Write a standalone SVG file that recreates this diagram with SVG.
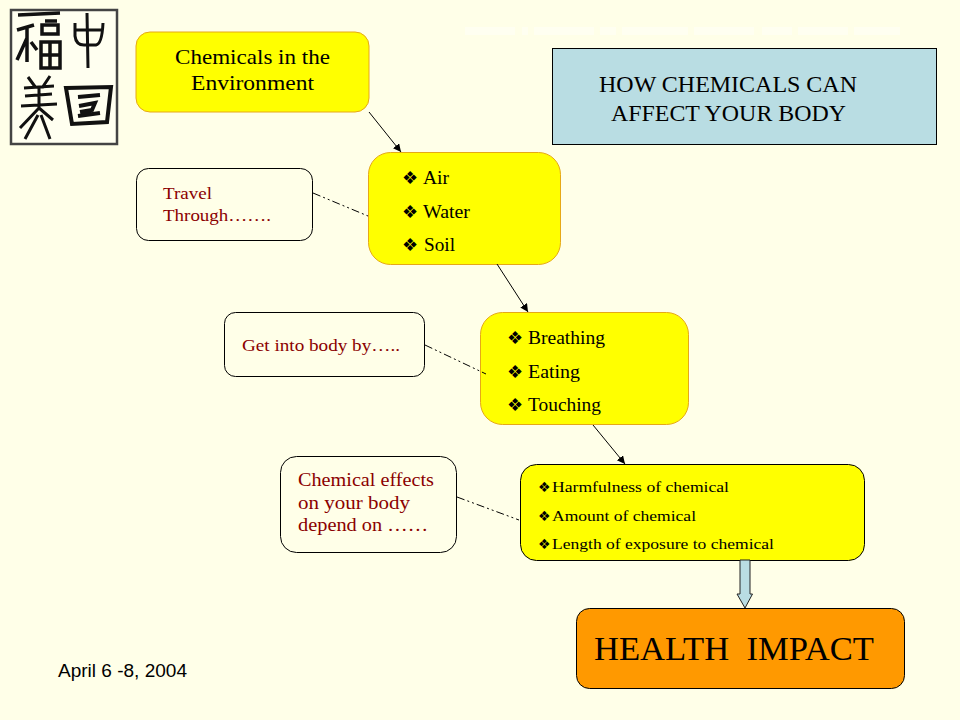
<svg xmlns="http://www.w3.org/2000/svg" width="960" height="720" viewBox="0 0 960 720">
<style>
text{font-family:"Liberation Serif","Times New Roman",serif;fill:#000}
.y{fill:#ffff00;stroke:#e6a817;stroke-width:1}
.yk{fill:#ffff00;stroke:#000;stroke-width:1}
.w{fill:#ffffe8;stroke:#000;stroke-width:1}
.r{fill:#8b0000}
.conn{stroke:#000;stroke-width:1;fill:none}
.dd{stroke-dasharray:8 3 2 3 2 3}
.b{font-family:"DejaVu Sans",sans-serif}
.smear{fill:#ffffff;opacity:.4}
</style>
<defs><marker id="ah" markerWidth="9" markerHeight="9" refX="8" refY="4" orient="auto" markerUnits="userSpaceOnUse"><path d="M0 0L8 4L0 8Z" fill="#000"/></marker></defs>
<rect width="960" height="720" fill="#ffffe8"/>
<g id="logo">
<rect x="11" y="10" width="106" height="134" fill="#fffff0" stroke="#444" stroke-width="2.500"/>
<g fill="none" stroke="#111" stroke-width="3.500">
<path d="M18 15L60 13M17 30L34 25M27 27L27 62M27 38L17 60M31 42L37 50M45 21H57M42 25H58V34H42ZM41 42H60V68H41ZM41 55H60M50 42V68"/>
<path d="M75 23V36Q76 45 84 45H96Q102 44 103 23M75 30H103M87 13L88 68" stroke-width="3"/>
<path d="M66 88L111 87L107 122L72 124ZM78 97L100 95M79 106L95 103L92 110L80 112M78 116L100 113" stroke-width="4"/>
<path d="M28 77L36 88M50 76L42 88M24 88L54 86M25 96L52 94M21 106L57 104M39 86V108M39 108L20 128M39 108L53 120M38 115L25 139M41 115L50 139" stroke-width="3"/>
</g>
</g>
<g id="faint-caption">
<rect class="smear" x="465" y="27" width="50" height="8"/><rect class="smear" x="522" y="27" width="6" height="8"/><rect class="smear" x="534" y="27" width="60" height="8"/><rect class="smear" x="600" y="27" width="16" height="8"/><rect class="smear" x="622" y="27" width="66" height="8"/><rect class="smear" x="694" y="27" width="60" height="8"/><rect class="smear" x="762" y="27" width="30" height="8"/><rect class="smear" x="798" y="27" width="50" height="8"/><rect class="smear" x="854" y="27" width="46" height="8"/>
</g>
<g id="node-environment"><rect class="y" x="136" y="32" width="233" height="80" rx="14"/>
<text x="175" y="64" font-size="22" textLength="155" lengthAdjust="spacingAndGlyphs">Chemicals in the</text><text x="191" y="90" font-size="22" textLength="123" lengthAdjust="spacingAndGlyphs">Environment</text></g>
<g id="node-title"><rect x="552.500" y="48.500" width="384" height="96" fill="#b9dde3" stroke="#000"/>
<text x="599" y="92" font-size="24" textLength="258" lengthAdjust="spacingAndGlyphs">HOW CHEMICALS CAN</text><text x="611" y="121" font-size="24" textLength="235" lengthAdjust="spacingAndGlyphs">AFFECT YOUR BODY</text></g>
<g id="node-media"><rect class="y" x="368.500" y="152.500" width="192" height="112" rx="22"/>
<text class="b" x="402" y="184" font-size="18">❖</text><text x="423" y="184" font-size="18" textLength="26" lengthAdjust="spacingAndGlyphs">Air</text>
<text class="b" x="402" y="218" font-size="18">❖</text><text x="423" y="218" font-size="18" textLength="47" lengthAdjust="spacingAndGlyphs">Water</text>
<text class="b" x="402" y="251" font-size="18">❖</text><text x="424" y="251" font-size="18" textLength="31" lengthAdjust="spacingAndGlyphs">Soil</text></g>
<g id="node-travel"><rect class="w" x="136.500" y="168.500" width="176" height="72" rx="12"/>
<text class="r" x="163" y="199" font-size="17" textLength="49" lengthAdjust="spacingAndGlyphs">Travel</text><text class="r" x="163" y="221" font-size="17" textLength="108" lengthAdjust="spacingAndGlyphs">Through…….</text></g>
<g id="node-routes"><rect class="y" x="480.500" y="312.500" width="208" height="112" rx="22"/>
<text class="b" x="507" y="344" font-size="18">❖</text><text x="528" y="344" font-size="18" textLength="77" lengthAdjust="spacingAndGlyphs">Breathing</text>
<text class="b" x="507" y="378" font-size="18">❖</text><text x="528" y="378" font-size="18" textLength="52" lengthAdjust="spacingAndGlyphs">Eating</text>
<text class="b" x="507" y="411" font-size="18">❖</text><text x="528" y="411" font-size="18" textLength="73" lengthAdjust="spacingAndGlyphs">Touching</text></g>
<g id="node-getinto"><rect class="w" x="224.500" y="312.500" width="200" height="64" rx="11"/>
<text class="r" x="242" y="351" font-size="17" textLength="158" lengthAdjust="spacingAndGlyphs">Get into body by…..</text></g>
<g id="node-effects"><rect class="w" x="280.500" y="456.500" width="176" height="96" rx="16"/>
<text class="r" x="298" y="486" font-size="18" textLength="136" lengthAdjust="spacingAndGlyphs">Chemical effects</text><text class="r" x="298" y="509" font-size="18" textLength="112" lengthAdjust="spacingAndGlyphs">on your body</text><text class="r" x="298" y="531" font-size="18" textLength="130" lengthAdjust="spacingAndGlyphs">depend on ……</text></g>
<g id="node-factors"><rect class="yk" x="520.500" y="464.500" width="344" height="96" rx="16"/>
<text class="b" x="538" y="492" font-size="14">❖</text><text x="552" y="492" font-size="15" textLength="177" lengthAdjust="spacingAndGlyphs">Harmfulness of chemical</text>
<text class="b" x="538" y="521" font-size="14">❖</text><text x="552" y="521" font-size="15" textLength="144" lengthAdjust="spacingAndGlyphs">Amount of chemical</text>
<text class="b" x="538" y="549" font-size="14">❖</text><text x="552" y="549" font-size="15" textLength="222" lengthAdjust="spacingAndGlyphs">Length of exposure to chemical</text></g>
<g id="node-impact"><rect x="576.500" y="608.500" width="328" height="80" rx="13" fill="#ff9900" stroke="#000"/>
<text x="594" y="660" font-size="34" textLength="280" lengthAdjust="spacingAndGlyphs" xml:space="preserve">HEALTH  IMPACT</text></g>
<g id="connectors">
<line class="conn" x1="369" y1="112" x2="401" y2="152" marker-end="url(#ah)"/>
<line class="conn" x1="497" y1="264" x2="528" y2="312" marker-end="url(#ah)"/>
<line class="conn" x1="593" y1="425" x2="625" y2="464" marker-end="url(#ah)"/>
<line class="conn dd" x1="313" y1="193" x2="368" y2="216"/>
<line class="conn dd" x1="425" y1="345" x2="486" y2="374"/>
<line class="conn dd" x1="457" y1="497" x2="519" y2="520"/>
<path d="M740 560H750V594H752.500L745 608L737 594H740Z" fill="#b9dde3" stroke="#222" stroke-width="1"/>
</g>
<g id="date"><text x="58" y="677" font-size="18" textLength="129" lengthAdjust="spacingAndGlyphs" style="font-family:'Liberation Sans',Arial,sans-serif">April 6 -8, 2004</text></g>
</svg>
